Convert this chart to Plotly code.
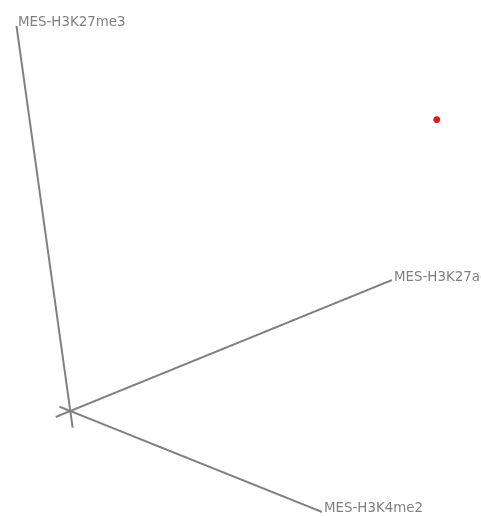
import plotly.graph_objects as go

axis_names = ["MES-H3K4me2", "MES-H3K27ac", "MES-H3K27me3"]
axis_starts = [-0.044, -0.044, -0.044]
axis_ends = [1.023, 0.973, 1.012]
point_x = [0.70]
point_y = [0.70]
point_z = [0.70]

fig = go.Figure()
annotations = []
for i, name in enumerate(axis_names):
    xs = [0, 0]; ys = [0, 0]; zs = [0, 0]
    arr = [xs, ys, zs][i]
    arr[0] = axis_starts[i]
    arr[1] = axis_ends[i]
    fig.add_trace(go.Scatter3d(
        x=xs, y=ys, z=zs, mode="lines",
        line=dict(color="#808080", width=4),
        hoverinfo="skip", showlegend=False))
    annotations.append(dict(
        x=xs[1], y=ys[1], z=zs[1], text=name, showarrow=False,
        xanchor="left", yanchor="middle", xshift=0, yshift=4,
        font=dict(family="DejaVu Sans", size=13.4, color="#808080")))

fig.add_trace(go.Scatter3d(x=point_x, y=point_y, z=point_z, mode="markers",
                           marker=dict(color="#e31a1c", size=4),
                           showlegend=False))

k = 1.7715
edir = (0.7702, -0.5118, 0.3808)
up = (-0.2375, 0.3240, 0.9158)
cen = (-0.5555, -0.0882, -0.3465)
dist = 2.0
eye = dict(x=cen[0] + dist * edir[0], y=cen[1] + dist * edir[1], z=cen[2] + dist * edir[2])

hidden = dict(visible=False, range=[-0.05, 1.05])
fig.update_layout(
    width=481, height=516,
    margin=dict(l=0, r=0, t=0, b=0),
    paper_bgcolor="white",
    scene=dict(
        xaxis=hidden, yaxis=hidden, zaxis=hidden,
        aspectmode="manual",
        aspectratio=dict(x=k, y=k, z=k),
        annotations=annotations,
        camera=dict(
            eye=eye,
            up=dict(x=up[0], y=up[1], z=up[2]),
            center=dict(x=cen[0], y=cen[1], z=cen[2]),
            projection=dict(type="orthographic"),
        ),
    ),
)
fig.write_html("out.html")
